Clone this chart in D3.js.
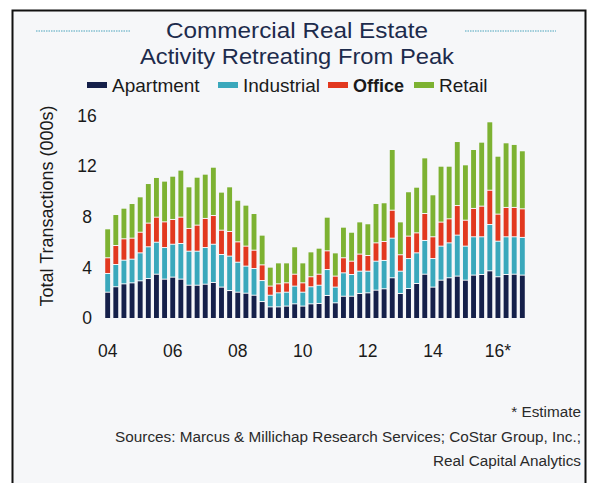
<!DOCTYPE html>
<html>
<head>
<meta charset="utf-8">
<script src="https://cdn.jsdelivr.net/npm/d3@7"></script>
<style>
  html, body { margin: 0; padding: 0; background: #ffffff; }
  svg { display: block; font-family: "Liberation Sans", Arial, Helvetica, sans-serif; }
</style>
</head>
<body>
<svg id="chart" width="594" height="483"></svg>
<script>
// Quarterly commercial real estate transactions, thousands (2016 estimated)
const years = ["04","05","06","07","08","09","10","11","12","13","14","15","16"];
const quarters = years.flatMap(y => ["Q1","Q2","Q3","Q4"].map(q => y + q));

const apartment = [
  2.00, 2.43, 2.66, 2.74, 2.90, 3.08, 3.42, 3.03, 3.19, 3.03, 2.55, 2.55, 2.63,
  2.77, 2.40, 2.13, 2.00, 1.92, 1.76, 1.26, 0.84, 0.84, 0.90, 1.08, 0.90, 1.08,
  1.11, 1.74, 1.16, 1.68, 1.68, 1.90, 1.95, 2.16, 2.27, 3.14, 1.90, 2.29, 2.69,
  3.42, 2.40, 2.95, 3.14, 3.27, 2.95, 3.35, 3.40, 3.69, 3.22, 3.40, 3.42, 3.35
];
const industrial = [
  1.48, 1.76, 1.87, 1.87, 2.21, 2.51, 2.53, 2.50, 2.60, 2.82, 2.69, 2.69, 2.90,
  3.02, 2.58, 2.72, 2.37, 2.14, 2.11, 1.66, 0.92, 1.11, 1.10, 1.40, 1.10, 1.35,
  1.44, 2.05, 1.24, 1.85, 1.72, 1.76, 1.71, 2.29, 2.24, 3.13, 1.76, 2.37, 2.42,
  2.67, 2.26, 2.69, 2.76, 3.24, 2.69, 3.03, 2.98, 3.66, 2.81, 2.98, 2.96, 2.98
];
const office = [
  1.24, 1.50, 1.69, 1.66, 1.63, 1.87, 1.98, 2.03, 1.96, 2.08, 1.80, 2.06, 2.30,
  2.27, 1.92, 1.95, 1.61, 1.58, 1.45, 1.24, 0.72, 0.71, 0.74, 0.94, 0.74, 0.79,
  0.87, 1.48, 0.87, 1.19, 1.05, 1.35, 1.24, 1.45, 1.50, 2.21, 1.30, 1.77, 1.58,
  2.13, 1.72, 1.90, 1.90, 2.34, 2.05, 2.24, 2.42, 2.71, 2.14, 2.32, 2.32, 2.26
];
const retail = [
  2.29, 2.45, 2.42, 2.74, 2.80, 3.13, 3.14, 3.22, 3.42, 3.72, 3.29, 3.79, 3.50,
  3.82, 3.01, 3.53, 3.29, 3.24, 2.90, 2.35, 1.50, 1.66, 1.58, 2.17, 1.58, 1.97,
  2.06, 2.66, 1.84, 2.42, 2.29, 2.55, 2.51, 3.11, 3.06, 4.80, 2.60, 3.51, 3.61,
  4.40, 3.32, 4.42, 4.16, 5.06, 4.38, 4.66, 5.06, 5.41, 4.58, 5.11, 4.98, 4.59
];

const seriesNames = ["Apartment", "Industrial", "Office", "Retail"];
const seriesColors = ["#15204a", "#3aa8bc", "#e2381f", "#7db232"];
const yTicks = [0, 4, 8, 12, 16];
const xTickQuarters = ["04Q1","06Q1","08Q1","10Q1","12Q1","14Q1","16Q1"];
const xTickLabels = ["04","06","08","10","12","14","16*"];

const rows = quarters.map((q, i) => ({
  quarter: q,
  Apartment: apartment[i],
  Industrial: industrial[i],
  Office: office[i],
  Retail: retail[i]
}));

const svg = d3.select("#chart");

// Panel frame
svg.append("rect")
  .attr("x", 12.5).attr("y", 10.5)
  .attr("width", 573).attr("height", 490)
  .attr("fill", "#f6f7f9")
  .attr("stroke", "#111").attr("stroke-width", 2);

// Title with dotted rules either side
const titleColor = "#1d2b4c";
svg.append("text")
  .attr("x", 297).attr("y", 38)
  .attr("text-anchor", "middle")
  .attr("font-size", 22.5).attr("fill", titleColor)
  .attr("textLength", 262).attr("lengthAdjust", "spacingAndGlyphs")
  .text("Commercial Real Estate");
svg.append("text")
  .attr("x", 297).attr("y", 64)
  .attr("text-anchor", "middle")
  .attr("font-size", 22.5).attr("fill", titleColor)
  .attr("textLength", 314).attr("lengthAdjust", "spacingAndGlyphs")
  .text("Activity Retreating From Peak");
[[36, 130], [465, 556]].forEach(([a, b]) => {
  svg.append("line")
    .attr("x1", a).attr("x2", b).attr("y1", 31).attr("y2", 31)
    .attr("stroke", "#4aa3bd").attr("stroke-width", 1.2)
    .attr("stroke-dasharray", "1.5,1");
});

// Legend
const legendX = [87, 218, 328, 414];
const legend = svg.append("g");
seriesNames.forEach((name, i) => {
  const g = legend.append("g").attr("transform", `translate(${legendX[i]},85)`);
  g.append("rect").attr("x", 0).attr("y", -3).attr("width", 20).attr("height", 6)
    .attr("fill", seriesColors[i]);
  g.append("text").attr("x", 25).attr("y", 6.5)
    .attr("fill", "#1a1a1a")
    .attr("font-weight", name === "Office" ? "bold" : "normal")
    .attr("font-size", name === "Office" ? 18 : 19)
    .text(name);
});

// Scales
const x = d3.scaleBand()
  .domain(quarters)
  .range([103.6, 526.4])
  .paddingInner(0.4)
  .paddingOuter(0.2);
const y = d3.scaleLinear().domain([0, 16]).range([318, 115.6]);

// Stacked bars
const stacked = d3.stack().keys(seriesNames)(rows);
svg.append("g")
  .selectAll("g")
  .data(stacked)
  .join("g")
  .attr("fill", (d, i) => seriesColors[i])
  .each(function(layer, li) {
    d3.select(this).selectAll("rect")
      .data(layer)
      .join("rect")
      .attr("x", d => x(d.data.quarter))
      .attr("width", x.bandwidth())
      .attr("y", d => y(d[1]))
      .attr("height", d => Math.max(0, y(d[0]) - y(d[1]) - (li > 0 ? 1 : 0)));
  });

// Y axis (labels only)
const yAxis = svg.append("g")
  .attr("transform", "translate(96,0)")
  .call(d3.axisLeft(y).tickValues(yTicks).tickSize(0).tickPadding(0));
yAxis.select(".domain").remove();
yAxis.selectAll("text")
  .attr("x", -9).attr("text-anchor", "middle")
  .attr("font-size", 17.5).attr("fill", "#1a1a1a")
  .attr("font-family", "Liberation Sans, Arial, sans-serif");

// X axis (labels only)
const xAxis = svg.append("g")
  .attr("transform", "translate(0,318)")
  .call(d3.axisBottom(x)
    .tickValues(xTickQuarters)
    .tickFormat(q => xTickLabels[xTickQuarters.indexOf(q)])
    .tickSize(0).tickPadding(0));
xAxis.select(".domain").remove();
xAxis.selectAll("text")
  .attr("y", 39).attr("dy", 0)
  .attr("font-size", 17.5).attr("fill", "#1a1a1a")
  .attr("font-family", "Liberation Sans, Arial, sans-serif");

// Y axis title
svg.append("text")
  .attr("transform", "translate(53,206) rotate(-90)")
  .attr("text-anchor", "middle")
  .attr("font-size", 18).attr("fill", "#1a1a1a")
  .text("Total Transactions (000s)");

// Notes
const notes = [
  ["* Estimate", 417],
  ["Sources: Marcus & Millichap Research Services; CoStar Group, Inc.;", 442],
  ["Real Capital Analytics", 466]
];
notes.forEach(([t, yy]) => {
  svg.append("text")
    .attr("x", 581).attr("y", yy)
    .attr("text-anchor", "end")
    .attr("font-size", 15.3).attr("fill", "#2a2a2a")
    .text(t);
});
</script>
</body>
</html>
